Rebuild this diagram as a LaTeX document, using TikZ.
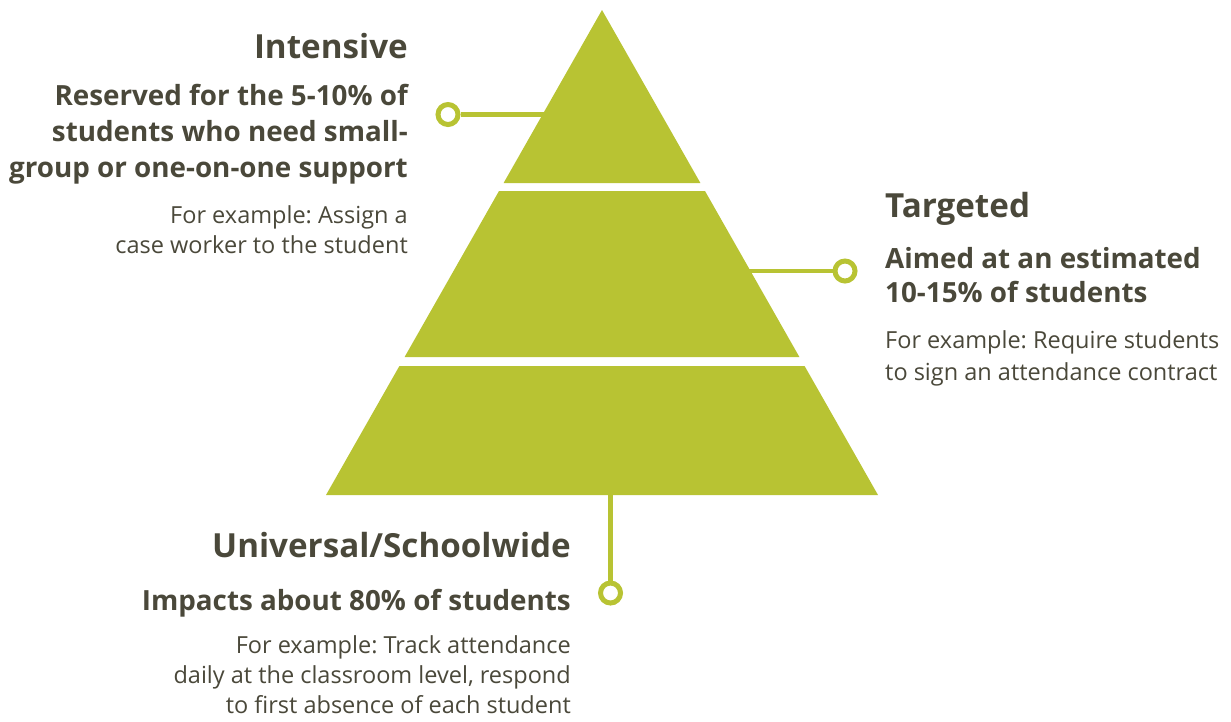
\documentclass[tikz,border=0pt]{standalone}
\usepackage{fontspec}
\setmainfont{Open Sans}
\frenchspacing
\definecolor{pgreen}{RGB}{184,195,51}
\definecolor{ptext}{RGB}{74,72,58}
\begin{document}
\begin{tikzpicture}[x=1pt,y=-1pt,
  head/.style={font=\fontsize{33.2}{40}\selectfont\bfseries, text=ptext, inner sep=0pt},
  sub/.style={font=\fontsize{27.8}{32}\selectfont\bfseries, text=ptext, inner sep=0pt},
  ex/.style={font=\fontsize{23.5}{28}\selectfont, text=ptext, inner sep=0pt},
  tier/.style={fill=pgreen, draw=none},
  conn/.style={draw=pgreen, line width=4.5pt},
  ring/.style={circle, draw=pgreen, line width=5pt, fill=white, minimum size=20pt, inner sep=0pt}]
\useasboundingbox (0,0) rectangle (1231,721);

% edge coordinates for connectors
\coordinate (int-e) at (560,114.5);
\coordinate (tar-e) at (740,271);
\coordinate (uni-e) at (610.5,490);

% connectors (behind the pyramid)
\node[ring] (int-c) at (448,114.5) {};
\node[ring] (tar-c) at (845,271) {};
\node[ring] (uni-c) at (610.5,593) {};
\draw[conn] (int-c) -- (int-e);
\draw[conn] (tar-c) -- (tar-e);
\draw[conn] (uni-c) -- (uni-e);

% pyramid tiers
\fill[tier] (602,10) -- (700.4,183) -- (503.6,183) -- cycle;
\fill[tier] (499,191) -- (705,191) -- (799.4,357) -- (404.6,357) -- cycle;
\fill[tier] (399.4,366) -- (804.6,366) -- (878,495) -- (326,495) -- cycle;

% Intensive
\node[head, anchor=base east] (int-h) at (408,58) {Intensive};
\node[sub, anchor=base east] (int-s1) at (408,105) {Reserved for the 5-10\% of};
\node[sub, anchor=base east] (int-s2) at (408,141) {students who need small-};
\node[sub, anchor=base east] (int-s3) at (408,177) {group or one-on-one support};
\node[ex, anchor=base east] (int-x1) at (408,223) {For example: Assign a};
\node[ex, anchor=base east] (int-x2) at (408,253) {case worker to the student};

% Targeted
\node[head, anchor=base west] (tar-h) at (885,217) {Targeted};
\node[sub, anchor=base west] (tar-s1) at (885,268) {Aimed at an estimated};
\node[sub, anchor=base west] (tar-s2) at (885,302) {10-15\% of students};
\node[ex, anchor=base west] (tar-x1) at (885,348) {For example: Require students};
\node[ex, anchor=base west] (tar-x2) at (885,380) {to sign an attendance contract};

% Universal
\node[head, anchor=base east] (uni-h) at (571,557) {Universal/Schoolwide};
\node[sub, anchor=base east] (uni-s1) at (571,610) {Impacts about 80\% of students};
\node[ex, anchor=base east] (uni-x1) at (571,653) {For example: Track attendance};
\node[ex, anchor=base east] (uni-x2) at (571,683) {daily at the classroom level, respond};
\node[ex, anchor=base east] (uni-x3) at (571,713) {to first absence of each student};
\end{tikzpicture}
\end{document}
